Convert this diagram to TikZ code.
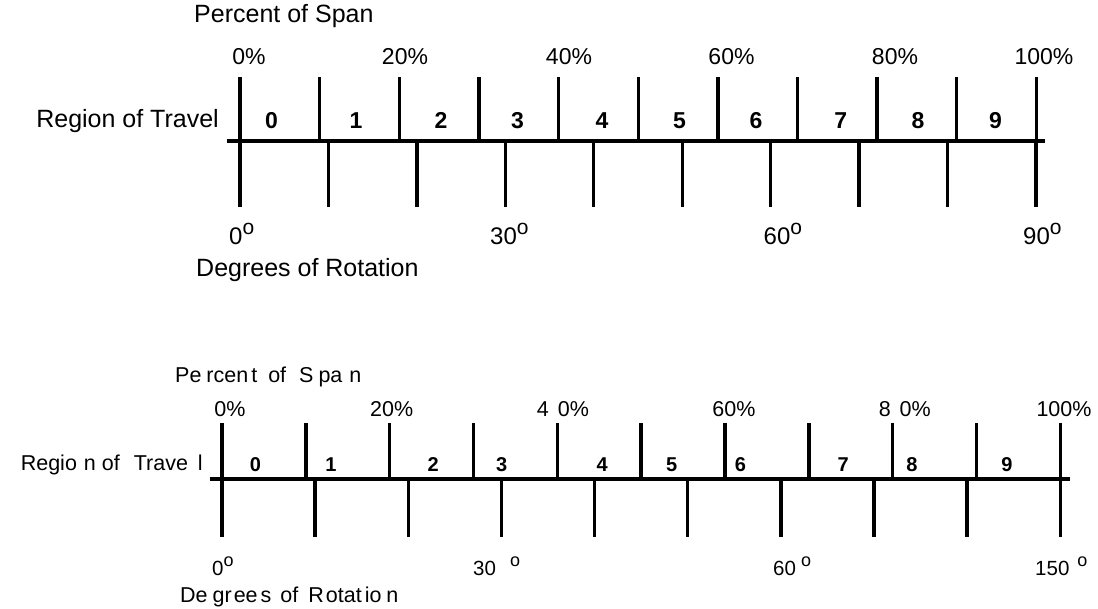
\documentclass[tikz,border=0pt]{standalone}
\usepackage{fontspec}
\setmainfont{Liberation Sans}
\usepackage{tikz}
\usetikzlibrary{calc}

% raised "o" used as degree mark: raise, size
\newcommand{\degsym}[2]{\raisebox{#1}{\fontsize{#2}{#2}\selectfont o}}

\begin{document}
\begin{tikzpicture}[x=1pt,y=-1pt,
    tick/.style={line width=3.4pt},
    axisline/.style={line width=4pt},
    lblA/.style={inner sep=0pt, font=\fontsize{25}{30}\selectfont},
    pctA/.style={inner sep=0pt, anchor=base, font=\fontsize{23}{28}\selectfont},
    degA/.style={inner sep=0pt, anchor=base west, font=\fontsize{24}{28}\selectfont},
    digA/.style={inner sep=0pt, anchor=base, font=\fontsize{23}{28}\selectfont\bfseries},
    lblB/.style={inner sep=0pt, font=\fontsize{21.5}{26}\selectfont},
    pctB/.style={inner sep=0pt, anchor=base, font=\fontsize{21.5}{26}\selectfont},
    degB/.style={inner sep=0pt, anchor=base west, font=\fontsize{20.5}{24}\selectfont},
    digB/.style={inner sep=0pt, anchor=base, font=\fontsize{20}{24}\selectfont\bfseries}]

    \useasboundingbox (0,0) rectangle (1098,609);

    % upper scale: 0 to 90 degrees
    \node[lblA, anchor=base west] (spanA) at (194,23) {Percent of Span};
    \foreach \p/\x in {0/249,20/405,40/569,60/731.5,80/895,100/1044}
        \node[pctA] (pctA\p) at (\x,65) {\p\%};
    \node[lblA, anchor=base east] (travelA) at (219,128) {Region of Travel};

    \coordinate (axAl) at (227,140.7);
    \coordinate (axAr) at (1045,140.7);
    \draw[axisline] (axAl) -- (axAr);
    \foreach \i in {0,...,10} {
        \coordinate (spA\i) at ({240+79.64*\i},77);
        \coordinate (spAb\i) at ({240+79.64*\i},140.7);
        \draw[tick] (spA\i) -- (spAb\i);
    }
    \foreach \i in {0,...,9} {
        \coordinate (rtA\i) at ({240+88.44*\i},140.7);
        \coordinate (rtAb\i) at ({240+88.44*\i},207);
        \draw[tick] (rtA\i) -- (rtAb\i);
    }
    \foreach \d/\x in {0/271.6,1/356,2/441,3/517.6,4/602,5/679.5,6/756,7/840.7,8/918,9/995.6}
        \node[digA] (regA\d) at (\x,128.3) {\d};

    \foreach \a/\x in {0/229,30/490,60/763.5,90/1023}
        \node[degA] (degA\a) at (\x,245) {\a\degsym{10pt}{21}};
    \node[lblA, anchor=base west] (rotA) at (196,276.7) {Degrees of Rotation};

    % lower scale: 0 to 150 degrees
    \node[lblB, anchor=base west] (spanB) at (175,382.5)
        {Pe\hspace{5pt}rcen\hspace{3pt}t\hspace{11pt}of\hspace{13pt}S\hspace{5pt}pa\hspace{7pt}n};
    \foreach \n/\p/\x in {0/0/230,1/20/391.7,2/4\hspace{9pt}0/563,3/60/734,4/8\hspace{9pt}0/904.8,5/100/1064}
        \node[pctB] (pctB\n) at (\x,416.7) {\p\%};
    \node[lblB, anchor=base east] (travelB) at (203,470.5)
        {Regio\hspace{7pt}n\hspace{6pt}of\hspace{14pt}Trave\hspace{10pt}l};

    \coordinate (axBl) at (210,479);
    \coordinate (axBr) at (1070,479);
    \draw[axisline] (axBl) -- (axBr);
    \foreach \i in {0,...,10} {
        \coordinate (spB\i) at ({222+83.83*\i},423);
        \coordinate (spBb\i) at ({222+83.83*\i},479);
        \draw[tick] (spB\i) -- (spBb\i);
    }
    \foreach \i in {0,...,9} {
        \coordinate (rtB\i) at ({222+93.14*\i},479);
        \coordinate (rtBb\i) at ({222+93.14*\i},537);
        \draw[tick] (rtB\i) -- (rtBb\i);
    }
    \foreach \d/\x in {0/255.5,1/331,2/433.3,3/501.6,4/602.3,5/671.7,6/740.4,7/843.2,8/911.9,9/1007}
        \node[digB] (regB\d) at (\x,471.7) {\d};

    \foreach \n/\a/\x in {0/0/212,1/30\hspace{14pt}/473,2/60\hspace{5pt}/773,3/150\hspace{8pt}/1035}
        \node[degB] (degB\n) at (\x,575) {\a\degsym{8.3pt}{18}};
    \node[lblB, anchor=base west] (rotB) at (180,602.7)
        {De\hspace{5pt}gr\hspace{2pt}ee\hspace{3pt}s\hspace{9pt}of\hspace{10pt}R\hspace{2pt}otat\hspace{3pt}io\hspace{5pt}n};
\end{tikzpicture}
\end{document}
